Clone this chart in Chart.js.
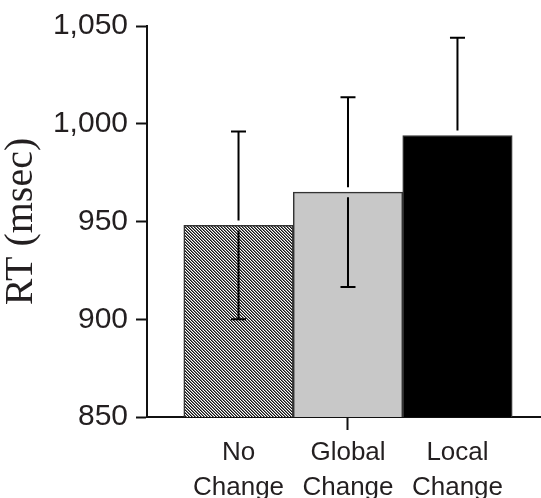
<!DOCTYPE html>
<html>
<head>
<meta charset="utf-8">
<script src="https://cdn.jsdelivr.net/npm/chart.js@4"></script>
<style>
  html, body { margin: 0; padding: 0; background: #ffffff; }
  #wrap { width: 541px; height: 498px; }
</style>
</head>
<body>
<div id="wrap"><canvas id="c" width="541" height="498"></canvas></div>
<script>
// ---- data ----
const categories = [["No", "Change"], ["Global", "Change"], ["Local", "Change"]];
const meanRT = [948, 965, 994];
const errorRT = [48, 48.5, 50];
const yTicks = [850, 900, 950, 1000, 1050];
const yTitle = "RT (msec)";

// ---- hatch pattern for the first bar ----
function makeHatch() {
  const t = document.createElement('canvas');
  t.width = 3; t.height = 3;
  const g = t.getContext('2d');
  const img = g.createImageData(3, 3);
  for (let y = 0; y < 3; y++) {
    for (let x = 0; x < 3; x++) {
      const m = ((x - y) % 3 + 3) % 3;
      const v = m === 0 ? 20 : (m === 1 ? 120 : 255);
      const i = (y * 3 + x) * 4;
      img.data[i] = v; img.data[i + 1] = v; img.data[i + 2] = v; img.data[i + 3] = 255;
    }
  }
  g.putImageData(img, 0, 0);
  return document.getElementById('c').getContext('2d').createPattern(t, 'repeat');
}

const fills = [makeHatch(), '#c8c8c8', '#000000'];

const errorBars = {
  id: 'errorBars',
  afterDatasetsDraw(chart) {
    const ctx = chart.ctx;
    const xs = chart.scales.x, ys = chart.scales.y;
    ctx.save();
    ctx.strokeStyle = '#000000';
    ctx.lineWidth = 2;
    meanRT.forEach((m, i) => {
      const x = xs.getPixelForValue(i + 1);
      const yM = ys.getPixelForValue(m);
      const yT = ys.getPixelForValue(m + errorRT[i]);
      const yB = ys.getPixelForValue(m - errorRT[i]);
      const gap = 5, cap = 7.5;
      ctx.beginPath();
      ctx.moveTo(x, yT); ctx.lineTo(x, yM - gap);
      ctx.moveTo(x, yM + gap); ctx.lineTo(x, yB);
      ctx.moveTo(x - cap, yT); ctx.lineTo(x + cap, yT);
      ctx.moveTo(x - cap, yB); ctx.lineTo(x + cap, yB);
      ctx.stroke();
    });
    ctx.restore();
  }
};

new Chart(document.getElementById('c'), {
  type: 'bar',
  data: {
    datasets: [{
      data: meanRT.map((v, i) => ({ x: i + 1, y: v })),
      backgroundColor: fills,
      borderColor: '#333333',
      borderWidth: 1.5,
      barPercentage: 1,
      categoryPercentage: 1
    }]
  },
  options: {
    responsive: false,
    animation: false,
    devicePixelRatio: 1,
    layout: { padding: { top: 24, right: 0, bottom: 0, left: 0 } },
    plugins: { legend: { display: false }, tooltip: { enabled: false } },
    scales: {
      x: {
        type: 'linear',
        offset: false,
        min: 0.164,
        max: 3.763,
        afterBuildTicks: s => { s.ticks = categories.map((c, i) => ({ value: i + 1 })); },
        afterFit: s => { s.height = 81; },
        ticks: {
          autoSkip: false,
          maxRotation: 0,
          minRotation: 0,
          padding: 5,
          color: '#231f20',
          font: { family: "'Liberation Sans', Arial, sans-serif", size: 26, lineHeight: 1.35 },
          callback: (v, i) => categories[i]
        },
        grid: {
          offset: false,
          drawOnChartArea: false,
          drawTicks: true,
          tickLength: 13,
          tickWidth: 2,
          tickColor: c => (c.index === 1 ? '#111111' : 'rgba(0,0,0,0)')
        },
        border: { display: true, color: '#111111', width: 2 }
      },
      y: {
        min: yTicks[0],
        max: yTicks[yTicks.length - 1],
        afterBuildTicks: s => { s.ticks = yTicks.map(v => ({ value: v })); },
        afterFit: s => { s.width = 147; },
        ticks: {
          padding: 8,
          color: '#231f20',
          font: { family: "'Liberation Sans', Arial, sans-serif", size: 30, lineHeight: 1.2 },
          callback: v => v.toLocaleString('en-US')
        },
        grid: {
          drawOnChartArea: false,
          drawTicks: true,
          tickLength: 11,
          tickWidth: 2,
          tickColor: '#111111'
        },
        border: { display: true, color: '#111111', width: 2 },
        title: {
          display: true,
          text: yTitle,
          color: '#231f20',
          font: { family: "'Liberation Serif', 'Times New Roman', serif", size: 40, lineHeight: 1 },
          padding: { top: 1, bottom: 0 }
        }
      }
    }
  },
  plugins: [errorBars]
});
</script>
</body>
</html>
